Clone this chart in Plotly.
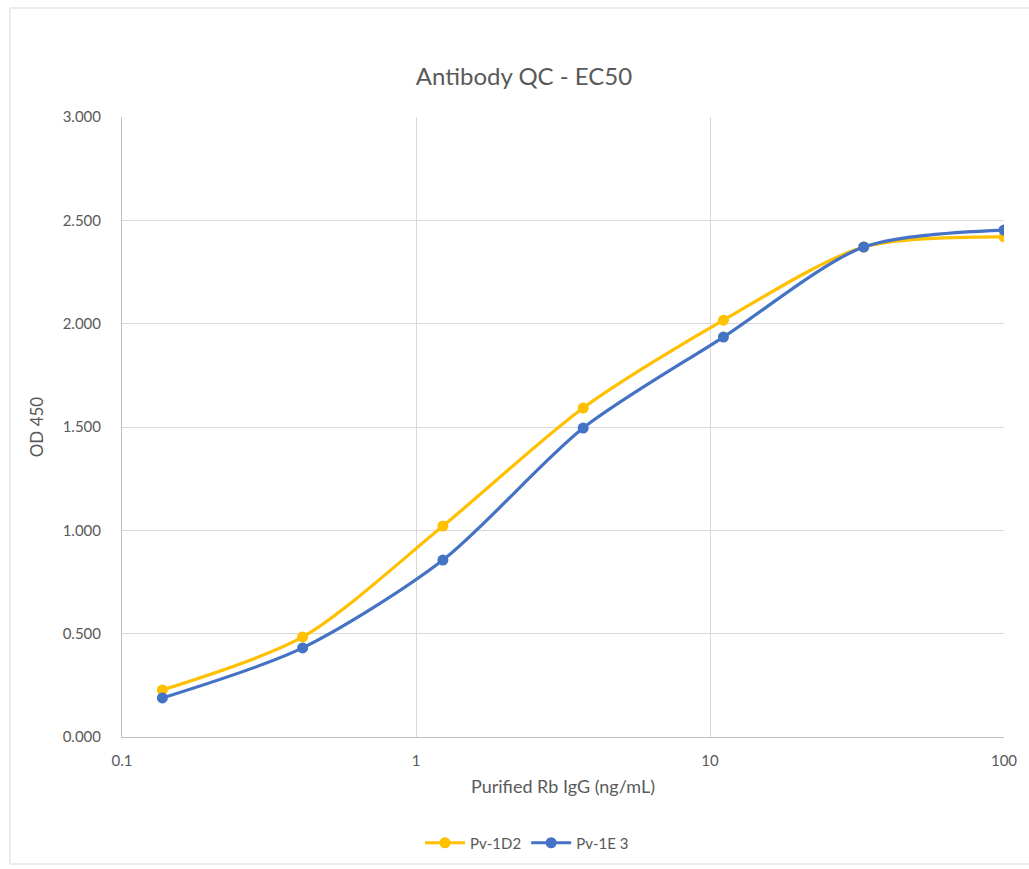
import plotly.graph_objects as go

conc = [0.1372, 0.4115, 1.2346, 3.7037, 11.111, 33.333, 100.0]
pv_1d2 = [0.228, 0.484, 1.021, 1.592, 2.017, 2.371, 2.420]
pv_1e3 = [0.189, 0.431, 0.856, 1.495, 1.935, 2.371, 2.453]
x_ticks = [0.1, 1, 10, 100]
x_tick_labels = ["0.1", "1", "10", "100"]
y_ticks = [0, 0.5, 1.0, 1.5, 2.0, 2.5, 3.0]

W, H = 1029, 869
L, R, T, B = 122, 1004, 117, 737

font = "Lato, 'Open Sans', sans-serif"
gray = "#595959"

fig = go.Figure()
for name, vals, col in [("Pv-1D2", pv_1d2, "#FFC000"), ("Pv-1E 3", pv_1e3, "#4472C4")]:
    fig.add_trace(go.Scatter(
        x=conc, y=vals, name=name, mode="lines+markers",
        line=dict(color=col, width=3.2, shape="spline", smoothing=0.8),
        marker=dict(color=col, size=11),
    ))

def px(x):
    return (x - L) / (R - L)

def py(y):
    return (B - y) / (B - T)

fig.add_shape(type="rect", xref="paper", yref="paper",
              x0=px(10), x1=px(1040), y0=py(864), y1=py(8),
              line=dict(color="#D9D9D9", width=1), fillcolor="rgba(0,0,0,0)", layer="below")

fig.update_layout(
    width=W, height=H,
    margin=dict(l=L, r=W - R, t=T, b=H - B),
    paper_bgcolor="white", plot_bgcolor="white",
    font=dict(family=font, color=gray, size=15),
    title=dict(text="Antibody QC - EC50", x=524 / W, xanchor="center",
               y=1 - 77 / H, yanchor="middle",
               font=dict(size=24, color=gray, family=font)),
    xaxis=dict(type="log", range=[-1, 2], tickvals=x_ticks, ticktext=x_tick_labels,
               showgrid=True, gridcolor="#D9D9D9", gridwidth=1,
               showline=True, linecolor="#BFBFBF", linewidth=1, zeroline=False,
               ticks="", tickfont=dict(size=15, color=gray), ticklabelstandoff=10,
               title=dict(text="Purified Rb IgG (ng/mL)", font=dict(size=18, color=gray), standoff=12)),
    yaxis=dict(range=[0, 3], tickvals=y_ticks, tickformat=".3f",
               showgrid=True, gridcolor="#D9D9D9", gridwidth=1,
               showline=True, linecolor="#BFBFBF", linewidth=1, zeroline=False,
               ticks="", tickfont=dict(size=15, color=gray), ticklabelstandoff=17,
               title=dict(text="OD 450", font=dict(size=17, color=gray), standoff=14)),
    legend=dict(orientation="h", x=527 / W, xref="container", xanchor="center",
                y=1 - 843 / H, yref="container", yanchor="middle",
                font=dict(size=15, color=gray), itemwidth=40),
    showlegend=True,
)

fig.write_html("out.html", config={"displayModeBar": False},
               post_script="document.body.style.margin='0';")
